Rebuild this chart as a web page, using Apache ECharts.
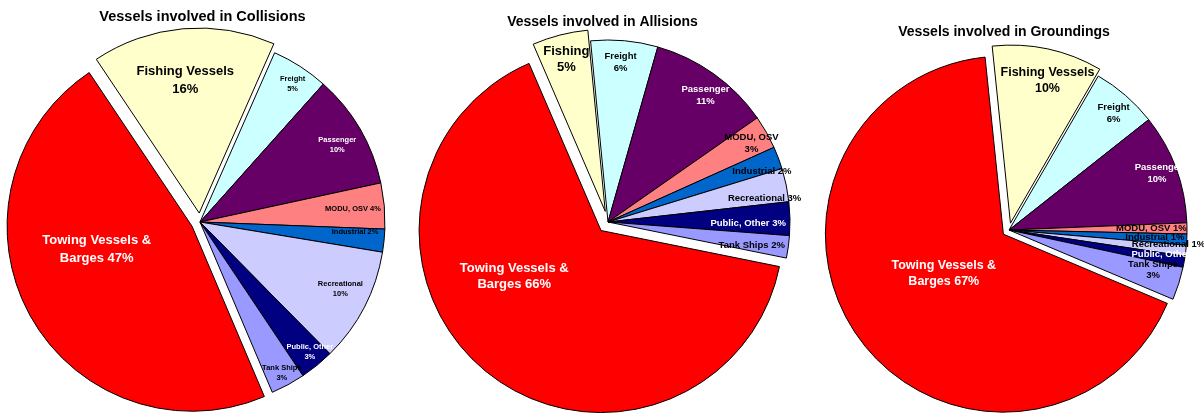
<!DOCTYPE html>
<html>
<head>
<meta charset="utf-8">
<script src="https://cdn.jsdelivr.net/npm/echarts@6/dist/echarts.min.js"></script>
<style>
  html, body { margin: 0; padding: 0; background: #ffffff; }
  #chart { width: 1204px; height: 414px; }
</style>
</head>
<body>
<div id="chart"></div>
<script>
// Vessel categories, in drawing order (clockwise from the Freight slice)
const categories = ['Freight', 'Passenger', 'MODU, OSV', 'Industrial', 'Recreational',
  'Public, Other', 'Tank Ships', 'Towing Vessels & Barges', 'Fishing Vessels'];

// Share of vessels (%) per casualty type
const collisionValues = [5, 10, 4, 2, 10, 3, 3, 47, 16];
const allisionValues  = [6, 11, 3, 2, 3, 3, 2, 66, 5];
const groundingValues = [6, 10, 1, 1, 1, 1, 3, 67, 10];

const chartTitles = ['Vessels involved in Collisions', 'Vessels involved in Allisions',
  'Vessels involved in Groundings'];

// Names as printed in each pie's slice labels
const collisionLabelNames = ['Freight', 'Passenger', 'MODU, OSV', 'Industrial', 'Recreational',
  'Public, Other', 'Tank Ships', 'Towing Vessels &\nBarges', 'Fishing Vessels'];
const allisionLabelNames = ['Freight', 'Passenger', 'MODU, OSV', 'Industrial', 'Recreational',
  'Public, Other', 'Tank Ships', 'Towing Vessels &\nBarges', 'Fishing'];
const groundingLabelNames = ['Freight', 'Passenger', 'MODU, OSV', 'Industrial', 'Recreational',
  'Public, Other', 'Tank Ships', 'Towing Vessels &\nBarges', 'Fishing Vessels'];

// ---- styling ----
const sliceColors = ['#CCFFFF', '#660066', '#FF8080', '#0066CC', '#CCCCFF',
  '#000080', '#9999FF', '#FF0000', '#FFFFCC'];
const labelColors = ['#000', '#fff', '#000', '#000', '#000', '#fff', '#000', '#fff', '#000'];
const explodedSlices = [false, false, false, false, false, false, false, true, true];

const FONT = '"Liberation Sans", Arial, sans-serif';

// Per-pie layout: centre, radius, rotation, explode distance and label placement
// (label radius as a fraction of the pie radius, and an angular nudge in degrees, clockwise)
const pies = [
  {
    values: collisionValues, names: collisionLabelNames, title: chartTitles[0],
    cx: 200, cy: 222, r: 185, startAngle: 66.2, explode: 9, titleX: 202.5, titleY: 9,
    titleSize: 14.5,
    sep:      ['\n', '\n', ' ', ' ', '\n', '\n', '\n', ' ', '\n'],
    font:     [7.5, 7.5, 7.5, 7.5, 7.5, 7.5, 7.5, 13, 13],
    lineH:    [10, 10, 10, 10, 10, 10, 10, 18, 18],
    labelR:   [0.9, 0.85, 0.83, 0.84, 0.84, 0.92, 0.93, 0.53, 0.72],
    labelRot: [1, 1, 0, -2, -2, -1, 0, 15, -1],
    labelW:   [null, null, null, null, null, null, null, null, null]
  },
  {
    values: allisionValues, names: allisionLabelNames, title: chartTitles[1],
    cx: 608, cy: 222, r: 182, startAngle: 95.5, explode: 11, titleX: 602.5, titleY: 15,
    titleSize: 14,
    sep:      ['\n', '\n', '\n', ' ', ' ', ' ', ' ', ' ', '\n'],
    font:     [9.5, 9.5, 9.5, 9.5, 9.5, 9.5, 9.5, 13, 13],
    lineH:    [12, 12, 12, 12, 12, 12, 12, 16, 16],
    labelR:   [0.88, 0.88, 0.9, 0.89, 0.87, 0.77, 0.8, 0.54, 0.86],
    labelRot: [-0.7, 2, 0.7, 2.5, 3.2, 1.6, 1.3, 23, 0],
    labelW:   [null, null, null, null, null, null, null, null, null]
  },
  {
    values: groundingValues, names: groundingLabelNames, title: chartTitles[2],
    cx: 1009, cy: 230, r: 178, startAngle: 59.9, explode: 7, titleX: 1004, titleY: 25,
    titleSize: 14,
    sep:      ['\n', '\n', ' ', ' ', ' ', ' ', '\n', ' ', '\n'],
    font:     [9.5, 9.5, 9.5, 9.5, 9.5, 9.5, 9.5, 12.5, 12.5],
    lineH:    [12, 12, 12, 12, 12, 12, 11, 16, 16],
    labelR:   [0.88, 0.89, 0.8, 0.82, 0.9, 0.865, 0.84, 0.4, 0.83],
    labelRot: [1, -0.7, 0, -0.4, -1.4, -1.3, -2, 3.3, 2.4],
    labelW:   [null, 48, null, null, null, 61, null, null, null]
  }
];

function buildSeries(p) {
  const total = p.values.reduce((s, v) => s + v, 0);
  // mid-angle of each slice, in radians, measured counter-clockwise from 3 o'clock
  const mids = [];
  let cum = 0;
  p.values.forEach(v => {
    mids.push((p.startAngle - (cum + v / 2) / total * 360) * Math.PI / 180);
    cum += v;
  });

  const data = p.values.map((v, i) => {
    const item = {
      name: categories[i],
      value: v,
      selected: explodedSlices[i],
      itemStyle: { color: sliceColors[i] },
      label: {
        color: labelColors[i],
        fontSize: p.font[i],
        lineHeight: p.lineH[i],
        formatter: p.names[i] + p.sep[i] + v + '%'
      }
    };
    if (p.labelW[i]) {
      item.label.width = p.labelW[i];
      item.label.overflow = 'truncate';
      item.label.ellipsis = '';
    }
    return item;
  });

  return {
    type: 'pie',
    name: p.title,
    center: [p.cx, p.cy],
    radius: [0, p.r],
    startAngle: p.startAngle,
    clockwise: true,
    avoidLabelOverlap: false,
    selectedMode: 'multiple',
    selectedOffset: p.explode,
    animation: false,
    silent: true,
    emphasis: { disabled: true },
    select: { itemStyle: { borderColor: '#000', borderWidth: 1 } },
    itemStyle: { borderColor: '#000', borderWidth: 1 },
    label: {
      show: true,
      position: 'inside',
      fontFamily: FONT,
      fontWeight: 'bold',
      align: 'center',
      verticalAlign: 'middle'
    },
    labelLine: { show: false },
    labelLayout: function (params) {
      const i = params.dataIndex;
      const a = mids[i];
      const at = a - p.labelRot[i] * Math.PI / 180;
      const base = p.r / 2 + 3;
      const rr = p.labelR[i] * p.r;
      return {
        dx: rr * Math.cos(at) - base * Math.cos(a),
        dy: -(rr * Math.sin(at) - base * Math.sin(a))
      };
    },
    data: data
  };
}

const chart = echarts.init(document.getElementById('chart'), null, { renderer: 'canvas' });
chart.setOption({
  backgroundColor: '#ffffff',
  animation: false,
  title: pies.map(p => ({
    text: p.title,
    left: p.titleX,
    top: p.titleY,
    padding: 0,
    textAlign: 'center',
    textStyle: { fontFamily: FONT, fontWeight: 'bold', fontSize: p.titleSize, color: '#000' }
  })),
  series: pies.map(buildSeries)
});
</script>
</body>
</html>
